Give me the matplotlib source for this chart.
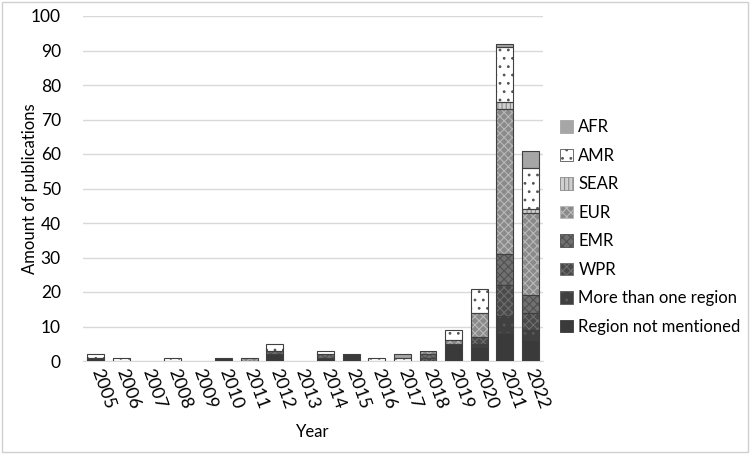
import matplotlib
matplotlib.use("Agg")
import matplotlib.pyplot as plt
import numpy as np
from matplotlib.patches import Rectangle

plt.rcParams['font.family'] = ['Lato', 'DejaVu Sans']
plt.rcParams['hatch.linewidth'] = 0.8

years = ["2005", "2006", "2007", "2008", "2009", "2010", "2011", "2012", "2013",
         "2014", "2015", "2016", "2017", "2018", "2019", "2020", "2021", "2022"]

region_not_mentioned = [1, 0, 0, 0, 0, 1, 0, 2, 0, 1, 2, 0, 0, 0, 5, 4, 8, 6]
more_than_one       = [0, 0, 0, 0, 0, 0, 0, 0, 0, 0, 0, 0, 0, 0, 0, 1, 5, 3]
wpr                 = [0, 0, 0, 0, 0, 0, 0, 0, 0, 0, 0, 0, 0, 1, 0, 2, 9, 5]
emr                 = [0, 0, 0, 0, 0, 0, 0, 1, 0, 1, 0, 0, 0, 1, 0, 0, 9, 5]
eur                 = [0, 0, 0, 0, 0, 0, 1, 0, 0, 0, 0, 0, 0, 1, 1, 7, 42, 24]
sear                = [0, 0, 0, 0, 0, 0, 0, 0, 0, 0, 0, 0, 0, 0, 0, 0, 2, 1]
amr                 = [1, 1, 0, 1, 0, 0, 0, 2, 0, 1, 0, 1, 1, 0, 3, 7, 16, 12]
afr                 = [0, 0, 0, 0, 0, 0, 0, 0, 0, 0, 0, 0, 1, 0, 0, 0, 1, 5]

series_names = ["Region not mentioned", "More than one region", "WPR", "EMR",
                "EUR", "SEAR", "AMR", "AFR"]
series_values = [region_not_mentioned, more_than_one, wpr, emr, eur, sear, amr, afr]

# (facecolor, hatch, hatchcolor)
styles = [
    ("#3a3a3a", None, "#3a3a3a"),
    ("#404040", "..", "#5a5a5a"),
    ("#4a4a4a", "xxxx", "#6e6e6e"),
    ("#707070", "xxxx", "#505050"),
    ("#8a8a8a", "xxxx", "#b8b8b8"),
    ("#d0d0d0", "||||", "#8a8a8a"),
    ("#ffffff", "..", "#555555"),
    ("#a6a6a6", None, "#a6a6a6"),
]

fig = plt.figure(figsize=(7.51, 4.54), dpi=100)
ax = fig.add_axes([83/751, 93/454, 460/751, 345/454])

x = np.arange(len(years))
bottom = np.zeros(len(years))
handles = []
for name, vals, (fc, hatch, hc) in zip(series_names, series_values, styles):
    vals = np.array(vals, dtype=float)
    m = vals > 0
    ax.bar(x[m], vals[m], 0.66, bottom=bottom[m], color=fc, hatch=hatch,
           edgecolor=hc, linewidth=0, zorder=3)
    ax.bar(x[m], vals[m], 0.66, bottom=bottom[m], fill=False, edgecolor="#404040",
           linewidth=0.8, zorder=4)
    handles.append(Rectangle((0, 0), 1, 1, facecolor=fc, hatch=hatch,
                             edgecolor=hc, linewidth=0.6))
    bottom += vals

ax.set_ylim(0, 100)
ax.set_xlim(-0.5, len(years) - 0.5)
ax.set_yticks(range(0, 101, 10))
ax.yaxis.grid(True, color="#d9d9d9", linewidth=1, zorder=0)
ax.set_axisbelow(True)
for s in ["top", "right", "left"]:
    ax.spines[s].set_visible(False)
ax.spines["bottom"].set_color("#d9d9d9")
ax.tick_params(axis="y", length=0, labelsize=12.5, pad=16)
ax.tick_params(axis="x", length=0, labelsize=13, pad=6)
ax.set_xticks(x)
ax.set_xticklabels(years, rotation=-70, ha="left", va="center",
                   rotation_mode="anchor")

ax.set_ylabel("Amount of publications", fontsize=12, labelpad=-5)
ax.set_xlabel("Year", fontsize=12, labelpad=9)

leg = ax.legend(handles[::-1], series_names[::-1], loc="center left",
                bbox_to_anchor=(545/751, 227/454), bbox_transform=fig.transFigure,
                frameon=False, fontsize=12, handlelength=0.8, handleheight=0.8,
                handletextpad=0.3, labelspacing=0.75)

fig.patches.append(Rectangle((2/751, 2/454), 746/751, 450/454,
                             transform=fig.transFigure, fill=False,
                             edgecolor="#d0d0d0", linewidth=1))

fig.savefig("out.png", dpi=100)
